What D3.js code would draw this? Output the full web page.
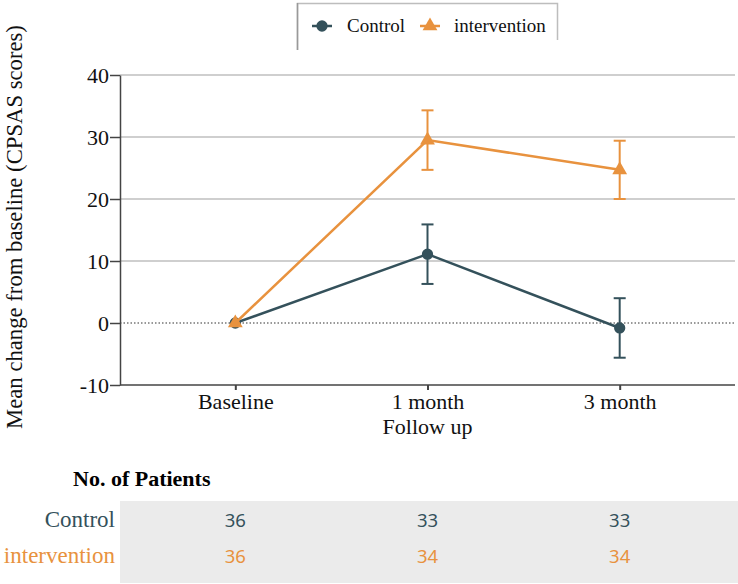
<!DOCTYPE html>
<html lang="en">
<head>
  <meta charset="UTF-8" />
  <title>Mean change from baseline (CPSAS scores)</title>
  <script src="https://d3js.org/d3.v7.min.js"></script>
  <style>
    body { margin: 0; background: #fff; }
    svg { display: block; }
    svg text { font-family: "Liberation Serif", "DejaVu Serif", serif; }
    svg text.num { font-family: "Noto Sans", "Open Sans", sans-serif; }
  </style>
</head>
<body>
  <svg id="chart"></svg>
  <script>
    // data
    const timepoints   = ["Baseline", "1 month", "3 month"];
    const controlMean  = [0, 11.1, -0.8];
    const controlErr   = [0, 4.8, 4.8];
    const interMean    = [0, 29.5, 24.7];
    const interErr     = [0, 4.8, 4.7];
    const controlN     = [36, 33, 33];
    const interN       = [36, 34, 34];
    const yTicks       = [-10, 0, 10, 20, 30, 40];

    const W = 738, H = 584;
    const plotL = 120, plotR = 735, plotT = 75, plotB = 385;
    const colCtrl = "#34515b", colInt = "#e8923e";
    const serif = "Liberation Serif";

    const svg = d3.select("#chart").attr("width", W).attr("height", H)
      .attr("font-family", serif);

    const x = d3.scalePoint().domain(timepoints).range([plotL, plotR]).padding(0.6);
    const y = d3.scaleLinear().domain([-10, 40]).range([plotB, plotT]);

    // grid
    svg.append("g").selectAll("line")
      .data(yTicks.filter(d => d > 0))
      .enter().append("line")
        .attr("x1", plotL).attr("x2", plotR)
        .attr("y1", d => y(d)).attr("y2", d => y(d))
        .attr("stroke", "#cfcfcf").attr("stroke-width", 2);

    svg.append("line")
      .attr("x1", plotL).attr("x2", plotR)
      .attr("y1", y(0)).attr("y2", y(0))
      .attr("stroke", "#333").attr("stroke-width", 1.2)
      .attr("stroke-dasharray", "1.5,2");

    // axes
    const yAxis = svg.append("g")
      .attr("transform", `translate(${plotL},0)`)
      .call(d3.axisLeft(y).tickValues(yTicks).tickFormat(d => String(d))
        .tickSize(10).tickPadding(1).tickSizeOuter(0));
    yAxis.attr("font-family", serif);
    yAxis.select(".domain").attr("stroke", "#444").attr("stroke-width", 1.5);
    yAxis.selectAll(".tick line").attr("stroke", "#444").attr("stroke-width", 1.5);
    yAxis.selectAll("text").attr("font-size", 22).attr("fill", "#111");

    const xAxis = svg.append("g")
      .attr("transform", `translate(0,${plotB})`)
      .call(d3.axisBottom(x).tickSize(5).tickPadding(3).tickSizeOuter(0));
    xAxis.attr("font-family", serif);
    xAxis.select(".domain").attr("stroke", "#444").attr("stroke-width", 1.5)
      .attr("d", `M${plotL},0H${plotR}`);
    xAxis.selectAll(".tick line").attr("stroke", "#444").attr("stroke-width", 2);
    xAxis.selectAll("text").attr("font-size", 22).attr("fill", "#111");

    svg.append("text")
      .attr("x", x("1 month")).attr("y", 434)
      .attr("text-anchor", "middle").attr("font-size", 22).attr("fill", "#111")
      .text("Follow up");

    svg.append("text")
      .attr("transform", "translate(22,227) rotate(-90)")
      .attr("text-anchor", "middle").attr("font-size", 22.7).attr("fill", "#111")
      .text("Mean change from baseline (CPSAS scores)");

    // series
    const series = [
      { name: "Control", mean: controlMean, err: controlErr, color: colCtrl, symbol: d3.symbolCircle, size: 100 },
      { name: "intervention", mean: interMean, err: interErr, color: colInt, symbol: d3.symbolTriangle, size: 95 }
    ];

    const line = d3.line().x((d, i) => x(timepoints[i])).y(d => y(d));

    series.forEach(s => {
      const g = svg.append("g");
      const pts = timepoints.map((t, i) => ({ t, m: s.mean[i], e: s.err[i] }));

      const eb = g.selectAll(".err").data(pts.filter(d => d.e > 0)).enter().append("g");
      eb.append("line")
        .attr("x1", d => x(d.t)).attr("x2", d => x(d.t))
        .attr("y1", d => y(d.m + d.e)).attr("y2", d => y(d.m - d.e))
        .attr("stroke", s.color).attr("stroke-width", 2);
      [1, -1].forEach(sign => {
        eb.append("line")
          .attr("x1", d => x(d.t) - 6).attr("x2", d => x(d.t) + 6)
          .attr("y1", d => y(d.m + sign * d.e)).attr("y2", d => y(d.m + sign * d.e))
          .attr("stroke", s.color).attr("stroke-width", 2);
      });

      g.append("path").datum(s.mean)
        .attr("d", line).attr("fill", "none")
        .attr("stroke", s.color).attr("stroke-width", 2.5);

      g.selectAll(".pt").data(pts).enter().append("path")
        .attr("transform", d => `translate(${x(d.t)},${y(d.m)})`)
        .attr("d", d3.symbol().type(s.symbol).size(s.size))
        .attr("fill", s.color);
    });

    // legend
    const lg = svg.append("g");
    lg.append("path")
      .attr("d", "M297.5,50V3.5H557.5V40")
      .attr("fill", "none").attr("stroke", "#bdbdbd").attr("stroke-width", 1.5);
    lg.append("line").attr("x1", 297.5).attr("x2", 297.5).attr("y1", 3).attr("y2", 50)
      .attr("stroke", "#999").attr("stroke-width", 1.5);
    const legItems = [
      { s: series[0], mx: 322, tx: 347 },
      { s: series[1], mx: 430, tx: 454 }
    ];
    legItems.forEach(it => {
      lg.append("line").attr("x1", it.mx - 10).attr("x2", it.mx + 10)
        .attr("y1", 26).attr("y2", 26)
        .attr("stroke", it.s.color).attr("stroke-width", 2.5);
      lg.append("path")
        .attr("transform", `translate(${it.mx},26)`)
        .attr("d", d3.symbol().type(it.s.symbol).size(it.s.size))
        .attr("fill", it.s.color);
      lg.append("text").attr("x", it.tx).attr("y", 32)
        .attr("font-size", 19).attr("fill", "#111").text(it.s.name);
    });

    // risk table
    svg.append("text")
      .attr("x", 73).attr("y", 486)
      .attr("font-size", 22).attr("font-weight", "bold").attr("fill", "#000")
      .text("No. of Patients");

    svg.append("rect")
      .attr("x", plotL).attr("y", 501).attr("width", W - plotL).attr("height", 82)
      .attr("fill", "#ebebeb");

    const rows = [
      { name: "Control", n: controlN, color: colCtrl, yy: 527 },
      { name: "intervention", n: interN, color: colInt, yy: 563 }
    ];
    rows.forEach(r => {
      svg.append("text").attr("x", 115).attr("y", r.yy)
        .attr("text-anchor", "end").attr("font-size", 23).attr("fill", r.color)
        .text(r.name);
      svg.append("g").selectAll("text").data(r.n).enter().append("text")
        .attr("class", "num")
        .attr("x", (d, i) => x(timepoints[i])).attr("y", r.yy)
        .attr("text-anchor", "middle").attr("font-size", 18.5).attr("fill", r.color)
        .text(d => d);
    });
  </script>
</body>
</html>
